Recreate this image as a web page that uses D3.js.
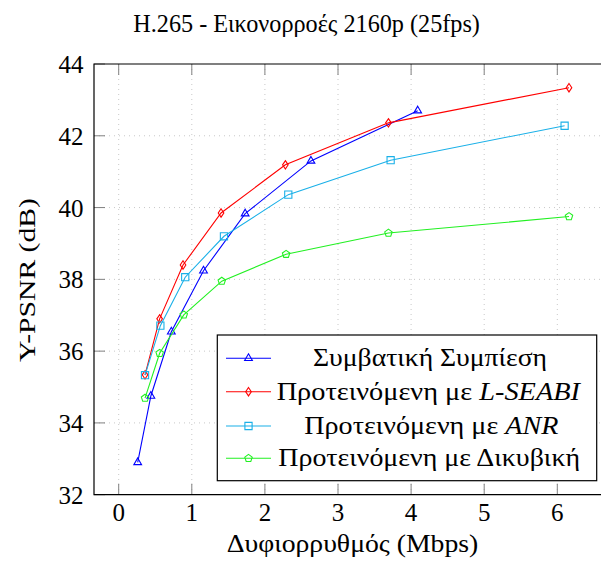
<!DOCTYPE html>
<html><head><meta charset="utf-8">
<script src="https://cdn.jsdelivr.net/npm/d3@7"></script>
<style>body{margin:0;background:#fff}svg{display:block}</style>
</head><body><svg id="c" width="601" height="566" font-family="Liberation Serif"></svg>
<script>
const title = "H.265 - Εικονορροές 2160p (25fps)";
const xLabel = "Δυφιορρυθμός (Mbps)";
const yLabel = "Y-PSNR (dB)";
const xTicks = [0,1,2,3,4,5,6];
const yTicks = [32,34,36,38,40,42,44];

const convX = [0.26,0.44,0.72,1.16,1.73,2.63,4.09];
const convY = [32.90,34.75,36.54,38.24,39.83,41.30,42.70];
const lseabiX = [0.36,0.56,0.88,1.40,2.28,3.69,6.16];
const lseabiY = [35.34,36.90,38.40,39.85,41.19,42.36,43.34];
const anrX = [0.36,0.57,0.91,1.44,2.32,3.72,6.10];
const anrY = [35.33,36.71,38.06,39.20,40.36,41.32,42.28];
const bicX = [0.36,0.56,0.89,1.41,2.29,3.69,6.16];
const bicY = [34.69,35.94,37.01,37.95,38.70,39.29,39.75];

const seriesNames = [
  [["Συμβατική Συμπίεση",false]],
  [["Προτεινόμενη με ",false],["L-SEABI",true]],
  [["Προτεινόμενη με ",false],["ANR",true]],
  [["Προτεινόμενη με Δικυβική",false]]
];
const colors = ["#0000ff","#ff0000","#1ab0e8","#22f022"];
const markers = ["triangle","diamond","square","pentagon"];

const series = [[convX,convY],[lseabiX,lseabiY],[anrX,anrY],[bicX,bicY]].map((s,i)=>({
  pts: s[0].map((x,j)=>({x, y:s[1][j]})), color: colors[i], marker: markers[i], name: seriesNames[i]
}));

const FF = "Liberation Serif";
const FS = 25;
const svg = d3.select("#c");
const L = 94, R = 610, T = 64, B = 494.7;
const x = d3.scaleLinear().domain([0,6]).range([118.7,557.3]);
const y = d3.scaleLinear().domain([32,44]).range([B,T]);

// grid
const g = svg.append("g");
g.selectAll(".gx").data(xTicks).join("line")
  .attr("x1",d=>x(d)).attr("x2",d=>x(d)).attr("y1",T).attr("y2",B)
  .attr("stroke","#c8c8c8").attr("stroke-width",1).attr("stroke-dasharray","1,4");
g.selectAll(".gy").data(yTicks.filter(d=>d>32&&d<44)).join("line")
  .attr("x1",L).attr("x2",R).attr("y1",d=>y(d)).attr("y2",d=>y(d))
  .attr("stroke","#c8c8c8").attr("stroke-width",1).attr("stroke-dasharray","1,4");

// ticks (inward)
const tl = 11;
g.selectAll(".tb").data(xTicks).join("line")
  .attr("x1",d=>x(d)).attr("x2",d=>x(d)).attr("y1",B).attr("y2",B-tl).attr("stroke","#808080");
g.selectAll(".tt").data(xTicks).join("line")
  .attr("x1",d=>x(d)).attr("x2",d=>x(d)).attr("y1",T).attr("y2",T+tl).attr("stroke","#808080");
g.selectAll(".tl").data(yTicks).join("line")
  .attr("x1",L).attr("x2",L+tl).attr("y1",d=>y(d)).attr("y2",d=>y(d)).attr("stroke","#808080");

// series
const line = d3.line().x(d=>x(d.x)).y(d=>y(d.y));
function markerPath(type){
  if(type==="triangle") return d3.symbol(d3.symbolTriangle, 26)();
  if(type==="diamond") return "M0,-4.2L2.8,0L0,4.2L-2.8,0Z";
  if(type==="square") return "M-3.6,-3.6H3.6V3.6H-3.6Z";
  if(type==="pentagon"){
    const pts=[]; for(let k=0;k<5;k++){const a=-Math.PI/2+k*2*Math.PI/5; pts.push([3.9*Math.cos(a),3.9*Math.sin(a)]);}
    return "M"+pts.map(p=>p.join(",")).join("L")+"Z";
  }
}
series.forEach(s=>{
  svg.append("path").datum(s.pts).attr("d",line).attr("fill","none").attr("stroke",s.color).attr("stroke-width",1.1);
  svg.selectAll(null).data(s.pts).join("path")
    .attr("transform",d=>`translate(${x(d.x)},${y(d.y)})`)
    .attr("d",markerPath(s.marker)).attr("fill","none").attr("stroke",s.color).attr("stroke-width",1.1);
});

// frame
svg.append("path").attr("d",`M${R},${T}H${L}V${B}H${R}`).attr("fill","none").attr("stroke","#000").attr("stroke-width",1.2);

// tick labels
svg.selectAll(".xl").data(xTicks).join("text").attr("font-family",FF)
  .attr("x",d=>x(d)).attr("y",521).attr("text-anchor","middle").attr("font-size",FS).text(d=>d);
svg.selectAll(".yl").data(yTicks).join("text").attr("font-family",FF)
  .attr("x",83.5).attr("y",d=>y(d)+9).attr("text-anchor","end").attr("font-size",FS).text(d=>d);

// axis labels and title
svg.append("text").attr("font-family",FF).attr("x",352.5).attr("y",551.7).attr("text-anchor","middle").attr("font-size",FS)
  .attr("textLength",251.6).attr("lengthAdjust","spacingAndGlyphs").text(xLabel);
svg.append("text").attr("font-family",FF).attr("transform","translate(35,280) rotate(-90)").attr("text-anchor","middle").attr("font-size",24)
  .attr("textLength",164).attr("lengthAdjust","spacingAndGlyphs").text(yLabel);
svg.append("text").attr("font-family",FF).attr("x",306.6).attr("y",32).attr("text-anchor","middle").attr("font-size",FS)
  .attr("textLength",346.7).attr("lengthAdjust","spacingAndGlyphs").text(title);

// legend
const lg = svg.append("g");
lg.append("rect").attr("x",217.3).attr("y",335).attr("width",379.4).attr("height",145.7)
  .attr("fill","#fff").attr("stroke","#000").attr("stroke-width",1.2);
const rowY = [358.3,391.7,426,458.3];
const rowW = [234,303.3,254,301.7];
const rowC = [430,428.3,431.3,429.2];
series.forEach((s,i)=>{
  lg.append("line").attr("x1",226).attr("x2",271).attr("y1",rowY[i]).attr("y2",rowY[i]).attr("stroke",s.color).attr("stroke-width",1.1);
  lg.append("path").attr("transform",`translate(248.5,${rowY[i]})`).attr("d",markerPath(s.marker))
    .attr("fill","none").attr("stroke",s.color).attr("stroke-width",1.1);
  const t = lg.append("text").attr("font-family",FF).attr("x",rowC[i]).attr("y",rowY[i]+8).attr("text-anchor","middle").attr("font-size",FS)
    .attr("textLength",rowW[i]).attr("lengthAdjust","spacingAndGlyphs");
  s.name.forEach(p=>t.append("tspan").attr("font-style",p[1]?"italic":"normal").text(p[0]));
});
</script></body></html>
